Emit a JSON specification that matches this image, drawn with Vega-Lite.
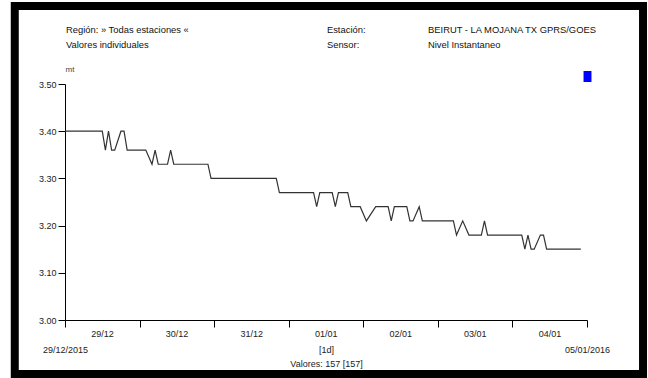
{
  "$schema": "https://vega.github.io/schema/vega-lite/v6.json",
  "width": 522,
  "height": 236,
  "autosize": {"type": "none"},
  "padding": {"left": 65, "top": 84, "right": 61, "bottom": 58},
  "background": "white",
  "config": {
    "view": {"stroke": null},
    "font": "Liberation Sans, Arial, sans-serif"
  },
  "datasets": {
    "nivel": [
      {"fecha": "2015-12-29T00:00", "nivel": 3.40},
      {"fecha": "2015-12-29T12:00", "nivel": 3.40},
      {"fecha": "2015-12-29T13:00", "nivel": 3.36},
      {"fecha": "2015-12-29T14:00", "nivel": 3.40},
      {"fecha": "2015-12-29T15:00", "nivel": 3.36},
      {"fecha": "2015-12-29T16:00", "nivel": 3.36},
      {"fecha": "2015-12-29T18:00", "nivel": 3.40},
      {"fecha": "2015-12-29T19:00", "nivel": 3.40},
      {"fecha": "2015-12-29T20:00", "nivel": 3.36},
      {"fecha": "2015-12-30T02:00", "nivel": 3.36},
      {"fecha": "2015-12-30T04:00", "nivel": 3.33},
      {"fecha": "2015-12-30T05:00", "nivel": 3.36},
      {"fecha": "2015-12-30T06:00", "nivel": 3.33},
      {"fecha": "2015-12-30T09:00", "nivel": 3.33},
      {"fecha": "2015-12-30T10:00", "nivel": 3.36},
      {"fecha": "2015-12-30T11:00", "nivel": 3.33},
      {"fecha": "2015-12-30T22:00", "nivel": 3.33},
      {"fecha": "2015-12-30T23:00", "nivel": 3.30},
      {"fecha": "2015-12-31T20:00", "nivel": 3.30},
      {"fecha": "2015-12-31T21:00", "nivel": 3.27},
      {"fecha": "2016-01-01T08:00", "nivel": 3.27},
      {"fecha": "2016-01-01T09:00", "nivel": 3.24},
      {"fecha": "2016-01-01T10:00", "nivel": 3.27},
      {"fecha": "2016-01-01T14:00", "nivel": 3.27},
      {"fecha": "2016-01-01T15:00", "nivel": 3.24},
      {"fecha": "2016-01-01T16:00", "nivel": 3.27},
      {"fecha": "2016-01-01T19:00", "nivel": 3.27},
      {"fecha": "2016-01-01T20:00", "nivel": 3.24},
      {"fecha": "2016-01-01T23:00", "nivel": 3.24},
      {"fecha": "2016-01-02T01:00", "nivel": 3.21},
      {"fecha": "2016-01-02T04:00", "nivel": 3.24},
      {"fecha": "2016-01-02T08:00", "nivel": 3.24},
      {"fecha": "2016-01-02T09:00", "nivel": 3.21},
      {"fecha": "2016-01-02T10:00", "nivel": 3.24},
      {"fecha": "2016-01-02T14:00", "nivel": 3.24},
      {"fecha": "2016-01-02T15:00", "nivel": 3.21},
      {"fecha": "2016-01-02T16:00", "nivel": 3.21},
      {"fecha": "2016-01-02T18:00", "nivel": 3.24},
      {"fecha": "2016-01-02T19:00", "nivel": 3.21},
      {"fecha": "2016-01-03T05:00", "nivel": 3.21},
      {"fecha": "2016-01-03T06:00", "nivel": 3.18},
      {"fecha": "2016-01-03T08:00", "nivel": 3.21},
      {"fecha": "2016-01-03T10:00", "nivel": 3.18},
      {"fecha": "2016-01-03T14:00", "nivel": 3.18},
      {"fecha": "2016-01-03T15:00", "nivel": 3.21},
      {"fecha": "2016-01-03T16:00", "nivel": 3.18},
      {"fecha": "2016-01-04T03:00", "nivel": 3.18},
      {"fecha": "2016-01-04T04:00", "nivel": 3.15},
      {"fecha": "2016-01-04T05:00", "nivel": 3.18},
      {"fecha": "2016-01-04T06:00", "nivel": 3.15},
      {"fecha": "2016-01-04T07:00", "nivel": 3.15},
      {"fecha": "2016-01-04T09:00", "nivel": 3.18},
      {"fecha": "2016-01-04T10:00", "nivel": 3.18},
      {"fecha": "2016-01-04T11:00", "nivel": 3.15},
      {"fecha": "2016-01-04T22:00", "nivel": 3.15}
    ]
  },
  "layer": [
    {
      "data": {"values": [{"marco": "borde"}]},
      "mark": {"type": "rect", "filled": false, "stroke": "black", "strokeWidth": 8, "clip": false},
      "encoding": {
        "x": {
          "datum": {"year": 2015, "month": 12, "date": 28, "hours": 7, "minutes": 50},
          "type": "temporal",
          "scale": {"domain": [{"year": 2015, "month": 12, "date": 29}, {"year": 2016, "month": 1, "date": 5}]},
          "axis": {
            "orient": "bottom",
            "values": [{"year": 2015, "month": 12, "date": 29}, {"year": 2016, "month": 1, "date": 5}],
            "format": "%d/%m/%Y",
            "domain": false,
            "ticks": false,
            "tickSize": 0,
            "grid": false,
            "labelPadding": 25,
            "labelFontSize": 9,
            "labelColor": "#222222",
            "labelFlush": false,
            "labelOverlap": false,
            "labelBound": false,
            "title": null
          }
        },
        "x2": {"datum": {"year": 2016, "month": 1, "date": 5, "hours": 18, "minutes": 2}},
        "y": {"datum": 3.6653, "type": "quantitative", "scale": {"domain": [3, 3.5], "nice": false, "zero": false}, "axis": null},
        "y2": {"datum": 2.8856}
      }
    },
    {
      "data": {"name": "nivel"},
      "mark": {"type": "line", "strokeWidth": 1.2, "interpolate": "linear"},
      "encoding": {
        "x": {
          "field": "fecha",
          "type": "temporal",
          "scale": {"domain": [{"year": 2015, "month": 12, "date": 29}, {"year": 2016, "month": 1, "date": 5}]},
          "axis": {
            "orient": "bottom",
            "values": [
              {"year": 2015, "month": 12, "date": 29},
              {"year": 2015, "month": 12, "date": 30},
              {"year": 2015, "month": 12, "date": 31},
              {"year": 2016, "month": 1, "date": 1},
              {"year": 2016, "month": 1, "date": 2},
              {"year": 2016, "month": 1, "date": 3},
              {"year": 2016, "month": 1, "date": 4},
              {"year": 2016, "month": 1, "date": 5}
            ],
            "format": "%d/%m",
            "labelExpr": "datum.value > datetime(2016, 0, 4, 12) ? '' : datum.label",
            "labelOffset": 37,
            "tickSize": 7,
            "tickColor": "black",
            "domainColor": "black",
            "grid": false,
            "labelPadding": 2,
            "labelFontSize": 9,
            "labelColor": "#222222",
            "labelFlush": false,
            "labelOverlap": false,
            "labelBound": false,
            "title": ["[1d]", "Valores: 157 [157]"],
            "titleFontSize": 9,
            "titleFontWeight": "normal",
            "titleColor": "#222222",
            "titleLineHeight": 14,
            "titlePadding": 7
          }
        },
        "y": {
          "field": "nivel",
          "type": "quantitative",
          "scale": {"domain": [3, 3.5], "nice": false, "zero": false},
          "axis": {
            "values": [3, 3.1, 3.2, 3.3, 3.4, 3.5],
            "format": ".2f",
            "tickSize": 7,
            "tickColor": "black",
            "domainColor": "black",
            "grid": false,
            "labelPadding": 2,
            "labelFontSize": 9,
            "labelColor": "#222222",
            "title": "mt",
            "titleAngle": 0,
            "titleAlign": "left",
            "titleBaseline": "bottom",
            "titleX": 0,
            "titleY": -11,
            "titleFontSize": 8,
            "titleFontWeight": "normal",
            "titleColor": "#444444"
          }
        },
        "color": {
          "datum": "Nivel Instantaneo",
          "scale": {"range": ["#333333"]},
          "legend": {
            "orient": "none",
            "legendX": 517,
            "legendY": -13,
            "title": null,
            "padding": 0,
            "symbolType": "M-0.72,-1H0.72V1H-0.72Z",
            "symbolSize": 121,
            "labelExpr": "''",
            "encode": {
              "symbols": {
                "update": {
                  "fill": {"value": "#0000ff"},
                  "stroke": {"value": "#0000ff"},
                  "strokeWidth": {"value": 0},
                  "opacity": {"value": 1}
                }
              }
            }
          }
        }
      }
    },
    {
      "data": {"values": [{"texto": "Región: » Todas estaciones «\nValores individuales"}]},
      "mark": {"type": "text", "align": "left", "baseline": "top", "lineBreak": "\n", "lineHeight": 15, "fontSize": 9.4, "color": "#111111", "clip": false},
      "encoding": {
        "x": {"datum": {"year": 2015, "month": 12, "date": 29, "hours": 0, "minutes": 19}, "type": "temporal", "axis": null},
        "y": {"datum": 3.622, "type": "quantitative", "axis": null},
        "text": {"field": "texto"}
      }
    },
    {
      "data": {"values": [{"texto": "Estación:\nSensor:"}]},
      "mark": {"type": "text", "align": "left", "baseline": "top", "lineBreak": "\n", "lineHeight": 15, "fontSize": 9.4, "color": "#111111", "clip": false},
      "encoding": {
        "x": {"datum": {"year": 2016, "month": 1, "date": 1, "hours": 12, "minutes": 18}, "type": "temporal", "axis": null},
        "y": {"datum": 3.622, "type": "quantitative", "axis": null},
        "text": {"field": "texto"}
      }
    },
    {
      "data": {"values": [{"texto": "BEIRUT - LA MOJANA TX GPRS/GOES\nNivel Instantaneo"}]},
      "mark": {"type": "text", "align": "left", "baseline": "top", "lineBreak": "\n", "lineHeight": 15, "fontSize": 9.4, "color": "#111111", "clip": false},
      "encoding": {
        "x": {"datum": {"year": 2016, "month": 1, "date": 2, "hours": 20, "minutes": 50}, "type": "temporal", "axis": null},
        "y": {"datum": 3.622, "type": "quantitative", "axis": null},
        "text": {"field": "texto"}
      }
    }
  ],
  "resolve": {"axis": {"x": "independent", "y": "independent"}}
}
